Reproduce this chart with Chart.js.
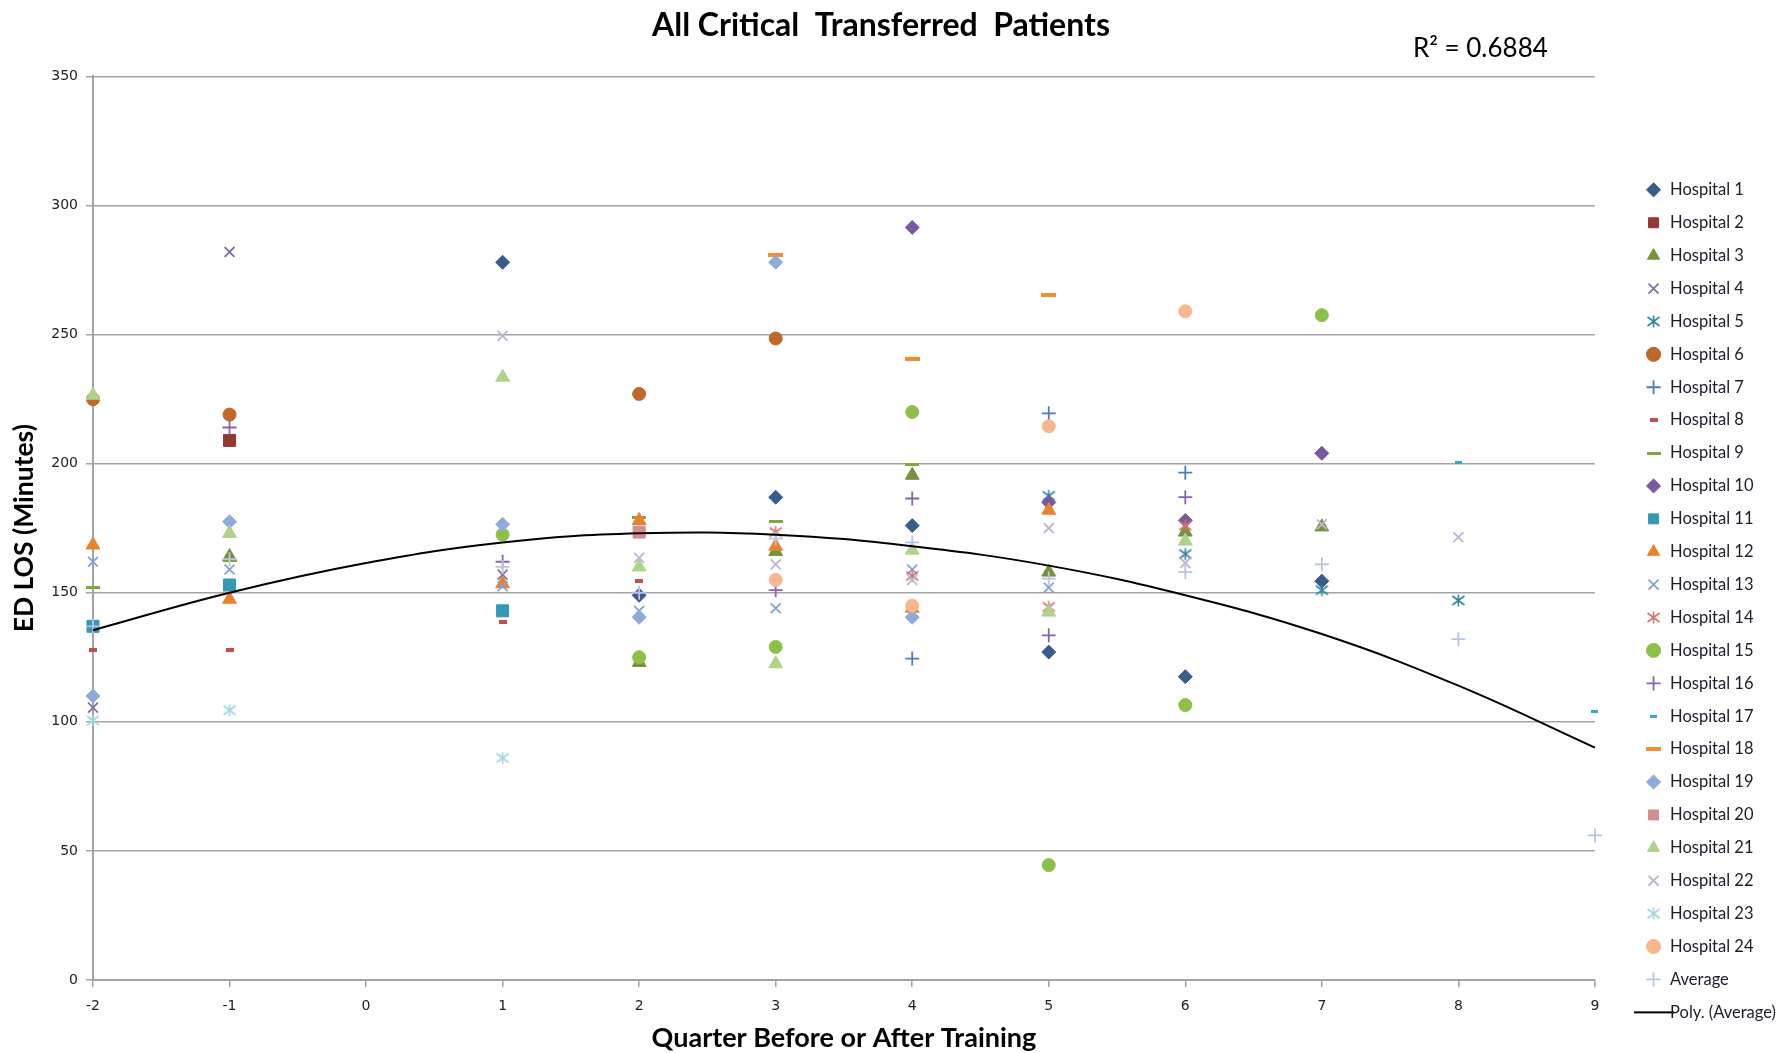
<!DOCTYPE html>
<html>
<head>
<meta charset="utf-8">
<title>All Critical Transferred Patients</title>
<script src="https://cdn.jsdelivr.net/npm/chart.js@4.4.1/dist/chart.umd.min.js"></script>
<style>
  html, body { margin: 0; padding: 0; background: #fff; }
  #wrap { position: relative; width: 1786px; height: 1053px; }
</style>
</head>
<body>
<div id="wrap"><canvas id="chart"></canvas></div>
<script>
// quarter before (-) / after (+) training; nobody reported quarter 0
const quarters = [-2, -1, 0, 1, 2, 3, 4, 5, 6, 7, 8, 9];

// ED LOS in minutes, one slot per quarter (null = no value)
const hospital1  = [null, null, null, 278, 149, 187, 176, 127, 117.5, 154.5, null, null];
const hospital2  = [null, 209, null, null, null, null, null, null, null, null, null, null];
const hospital3  = [null, 164, null, null, 123, 166, 195.5, 158, 173.5, 175.5, null, null];
const hospital4  = [105.5, 282, null, 157, null, null, null, null, null, null, null, null];
const hospital5  = [null, null, null, null, null, null, null, 187.5, 165, 151, 147, null];
const hospital6  = [225, 219, null, null, 227, 248.5, null, null, null, null, null, null];
const hospital7  = [null, null, null, null, null, null, 124.5, 219.5, 196.5, null, null, null];
const hospital8  = [128, 128, null, 138.5, 154.5, null, null, null, null, null, null, null];
const hospital9  = [152, 162.5, null, null, 179, 177.5, 199.5, null, null, null, null, null];
const hospital10 = [null, null, null, null, null, null, 291.5, 185, 178, 204, null, null];
const hospital11 = [137, 153, null, 143, null, null, null, null, null, null, null, null];
const hospital12 = [168.5, 147.5, null, 153.5, 178, 168, 144, 182, null, null, null, null];
const hospital13 = [162, 159, null, 152.5, 143, 144, 159, 152, null, null, null, null];
const hospital14 = [null, null, null, null, null, 173.5, 156.5, 144.5, 176, null, null, null];
const hospital15 = [null, null, null, 172.5, 125, 129, 220, 44.5, 106.5, 257.5, null, null];
const hospital16 = [null, 214, null, 162, null, 151, 186.5, 133.5, 187, null, null, null];
const hospital17 = [null, null, null, null, null, null, null, null, null, null, 200.5, 104];
const hospital18 = [null, null, null, null, null, 281, 240.5, 265.5, null, null, null, null];
const hospital19 = [110, 177.5, null, 176.5, 140.5, 278, 140.5, null, null, null, null, null];
const hospital20 = [null, null, null, null, 173.5, null, null, null, null, null, null, null];
const hospital21 = [226.5, 173, null, 233.5, 160, 122.5, 166.5, 142.5, 170, null, null, null];
const hospital22 = [null, null, null, 249.5, 163.5, 161, 155, 175, 161.5, 176.5, 171.5, null];
const hospital23 = [100.5, 104.5, null, 86, null, null, null, null, null, null, null, null];
const hospital24 = [null, null, null, null, null, 155, 145, 214.5, 259, null, null, null];
const average    = [137, 163, null, 160, 150, 171, 169.5, 155.5, 158, 161, 132, 56];

// polynomial trend of the average at each quarter
const polyAverage = [135.5, 150, 161.5, 169.5, 173, 172.5, 168, 160.5, 149, 134, 114, 90];
const r2Text = 'R\u00b2 = 0.6884';

const seriesNames = [
  'Hospital 1', 'Hospital 2', 'Hospital 3', 'Hospital 4', 'Hospital 5', 'Hospital 6',
  'Hospital 7', 'Hospital 8', 'Hospital 9', 'Hospital 10', 'Hospital 11', 'Hospital 12',
  'Hospital 13', 'Hospital 14', 'Hospital 15', 'Hospital 16', 'Hospital 17', 'Hospital 18',
  'Hospital 19', 'Hospital 20', 'Hospital 21', 'Hospital 22', 'Hospital 23', 'Hospital 24',
  'Average'
];
const seriesValues = [
  hospital1, hospital2, hospital3, hospital4, hospital5, hospital6, hospital7, hospital8,
  hospital9, hospital10, hospital11, hospital12, hospital13, hospital14, hospital15, hospital16,
  hospital17, hospital18, hospital19, hospital20, hospital21, hospital22, hospital23, hospital24,
  average
];

// marker look per series (excel 2007 default cycle)
const markers = [
  { color: '#385D8A', shape: 'rectRot', r: 7 },
  { color: '#953735', shape: 'rect', r: 8.5 },
  { color: '#76923C', shape: 'triangle', r: 8 },
  { color: '#8570A6', shape: 'crossRot', r: 7 },
  { color: '#31859C', shape: 'asterisk', size: 15 },
  { color: '#C0672A', shape: 'circle', r: 6.5 },
  { color: '#4A7EBB', shape: 'cross', r: 7 },
  { color: '#C0504D', shape: 'dash', w: 8, h: 4 },
  { color: '#7EA83F', shape: 'dash', w: 14, h: 3 },
  { color: '#7659A0', shape: 'rectRot', r: 7 },
  { color: '#3598B5', shape: 'rect', r: 8.5 },
  { color: '#E9822E', shape: 'triangle', r: 8 },
  { color: '#7FA3D8', shape: 'crossRot', r: 7 },
  { color: '#D8706D', shape: 'asterisk', size: 15 },
  { color: '#8DC049', shape: 'circle', r: 6.5 },
  { color: '#8566AE', shape: 'cross', r: 7 },
  { color: '#34A9CC', shape: 'dash', w: 7, h: 3 },
  { color: '#F68C2F', shape: 'dash', w: 15, h: 4 },
  { color: '#8EABDA', shape: 'rectRot', r: 7 },
  { color: '#D38E8F', shape: 'rect', r: 8.5 },
  { color: '#AFD28C', shape: 'triangle', r: 8 },
  { color: '#C1B3D6', shape: 'crossRot', r: 7 },
  { color: '#A0D5E3', shape: 'asterisk', size: 15 },
  { color: '#F9B58E', shape: 'circle', r: 6.5 },
  { color: '#B8C4E3', shape: 'cross', r: 7 }
];

function asteriskImg(color, size) {
  const c = document.createElement('canvas');
  c.width = c.height = size;
  const g = c.getContext('2d');
  const m = size / 2, d = size / 2 - 1.5;
  g.strokeStyle = color;
  g.lineWidth = 1.6;
  g.beginPath();
  g.moveTo(m - d, m - d * 0.75); g.lineTo(m + d, m + d * 0.75);
  g.moveTo(m + d, m - d * 0.75); g.lineTo(m - d, m + d * 0.75);
  g.moveTo(m, m - d); g.lineTo(m, m + d);
  g.stroke();
  return c;
}

function dashImg(color, w, h) {
  const c = document.createElement('canvas');
  c.width = w; c.height = h;
  const g = c.getContext('2d');
  g.fillStyle = color;
  g.fillRect(0, 0, w, h);
  return c;
}

function lineImg(w) {
  const c = document.createElement('canvas');
  c.width = w; c.height = 4;
  const g = c.getContext('2d');
  g.fillStyle = '#000';
  g.fillRect(0, 1, w, 2);
  return c;
}

function toPoints(values) {
  return quarters.map((q, i) => ({ x: q, y: values[i] })).filter(p => p.y !== null);
}

const datasets = seriesNames.map((name, i) => {
  const m = markers[i];
  const ds = {
    label: name,
    data: toPoints(seriesValues[i]),
    borderColor: m.color,
    backgroundColor: m.color,
    pointBorderColor: m.color,
    pointBackgroundColor: m.color,
    pointRadius: m.r || 7,
    pointBorderWidth: 1,
    clip: false,
    order: -i
  };
  if (m.shape === 'asterisk') {
    ds.pointStyle = asteriskImg(m.color, m.size);
  } else if (m.shape === 'dash') {
    ds.pointStyle = dashImg(m.color, m.w, m.h);
  } else {
    ds.pointStyle = m.shape;
    if (m.shape === 'cross' || m.shape === 'crossRot') ds.pointBorderWidth = 1.8;
  }
  ds.borderWidth = ds.pointBorderWidth;
  return ds;
});

datasets.push({
  label: 'Poly. (Average)',
  data: toPoints(polyAverage),
  showLine: true,
  tension: 0.4,
  borderColor: '#000',
  backgroundColor: '#000',
  borderWidth: 2,
  pointRadius: 0,
  pointStyle: lineImg(40),
  clip: false,
  order: -100
});

const r2Plugin = {
  id: 'r2',
  afterDraw(chart) {
    const ctx = chart.ctx;
    ctx.save();
    ctx.font = '26px Lato, "Open Sans", sans-serif';
    ctx.fillStyle = '#000';
    ctx.textBaseline = 'middle';
    ctx.textAlign = 'left';
    ctx.fillText(r2Text, chart.chartArea.right - 182, 49);
    ctx.restore();
  }
};

const gridGray = '#a3a3a3';
const tickFont = { family: '"DejaVu Sans", Verdana, sans-serif', size: 14 };
const boldFont = 'Lato, "Open Sans", sans-serif';

const chart = new Chart(document.getElementById('chart'), {
  type: 'scatter',
  data: { datasets },
  options: {
    responsive: true,
    maintainAspectRatio: false,
    animation: false,
    events: [],
    layout: { padding: 0 },
    plugins: {
      tooltip: { enabled: false },
      title: {
        display: true,
        // trailing em space nudges the centred title a little left, as in excel
        text: 'All Critical  Transferred  Patients\u2003',
        color: '#000',
        font: { family: boldFont, size: 32, weight: 'bold' },
        padding: { top: 6, bottom: 32 }
      },
      legend: {
        position: 'right',
        align: 'start',
        maxWidth: 160,
        title: { display: true, text: ' ', font: { size: 1 }, padding: { top: 164, bottom: 0 } },
        labels: {
          usePointStyle: true,
          boxHeight: 10,
          padding: 16.4,
          color: '#1c1c2a',
          font: { family: boldFont, size: 16.5 },
          sort: (a, b) => a.datasetIndex - b.datasetIndex
        }
      }
    },
    scales: {
      x: {
        type: 'linear',
        min: -2,
        max: 9,
        afterFit: s => { s.height = 73; },
        ticks: { stepSize: 1, color: '#222', font: tickFont, padding: 11 },
        grid: { drawOnChartArea: false, drawTicks: true, tickLength: 7, color: gridGray, lineWidth: 1.5 },
        border: { display: true, color: gridGray, width: 2 },
        title: {
          display: true,
          text: 'Quarter Before or After Training',
          color: '#000',
          font: { family: boldFont, size: 27, weight: 'bold', lineHeight: 1.1 },
          padding: { top: 8, bottom: 0 }
        }
      },
      y: {
        type: 'linear',
        min: 0,
        max: 350,
        afterFit: s => { s.width = 93; },
        ticks: { stepSize: 50, color: '#222', font: tickFont, padding: 8 },
        grid: { color: gridGray, lineWidth: 1.5, tickLength: 7 },
        border: { display: true, color: gridGray, width: 2 },
        title: {
          display: true,
          text: 'ED LOS (Minutes)',
          color: '#000',
          font: { family: boldFont, size: 26.5, weight: 'bold' },
          padding: { top: 9, bottom: 8 }
        }
      },
      gap: {
        type: 'linear',
        position: 'right',
        display: true,
        afterFit: s => { s.width = 34; },
        ticks: { display: false },
        grid: { display: false },
        border: { display: false }
      }
    }
  },
  plugins: [r2Plugin]
});
</script>
</body>
</html>
